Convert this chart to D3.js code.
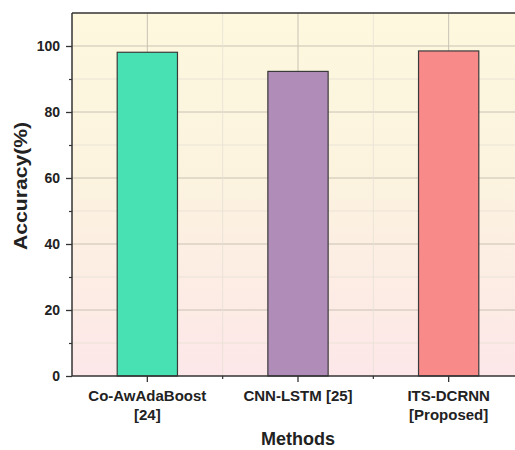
<!DOCTYPE html>
<html><head><meta charset="utf-8">
<script src="https://cdn.jsdelivr.net/npm/d3@7"></script>
<style>body{margin:0;background:#fff}svg{display:block}text{font-family:"Liberation Sans",Arial,sans-serif;font-weight:bold;fill:#222}</style>
</head><body>
<script>
const categories = ["Co-AwAdaBoost\n[24]", "CNN-LSTM [25]", "ITS-DCRNN\n[Proposed]"];
const values = [98.1, 92.3, 98.5];
const colors = ["#48e1b3", "#b08cb9", "#f88a8a"];
const yTicks = [0, 20, 40, 60, 80, 100];
const yMinor = [10, 30, 50, 70, 90];

const W = 515, H = 450;
const m = {left: 72, top: 13, bottom: 376};
const svg = d3.select("body").append("svg").attr("width", W).attr("height", H);

const x = d3.scaleBand().domain(categories).range([m.left, m.left + 452]).padding(0);
const y = d3.scaleLinear().domain([0, 110]).range([m.bottom, m.top]);

const defs = svg.append("defs");
const g = defs.append("linearGradient").attr("id", "bg").attr("x1", 0).attr("y1", 0).attr("x2", 0).attr("y2", 1);
g.append("stop").attr("offset", "0%").attr("stop-color", "#fdf8de");
g.append("stop").attr("offset", "45%").attr("stop-color", "#fcf3df");
g.append("stop").attr("offset", "100%").attr("stop-color", "#fde7e9");

svg.append("rect").attr("x", m.left).attr("y", m.top).attr("width", W - m.left).attr("height", m.bottom - m.top).attr("fill", "url(#bg)");

// grid
const gridG = svg.append("g");
gridG.selectAll(".hmin").data(yMinor).join("line")
  .attr("x1", m.left).attr("x2", W).attr("y1", d => y(d)).attr("y2", d => y(d))
  .attr("stroke", "#e6e0d4").attr("stroke-width", 0.8);
gridG.selectAll(".hmaj").data(yTicks.filter(d => d > 0)).join("line")
  .attr("x1", m.left).attr("x2", W).attr("y1", d => y(d)).attr("y2", d => y(d))
  .attr("stroke", "#c8c2b4").attr("stroke-width", 1);
gridG.selectAll(".vmaj").data(categories).join("line")
  .attr("x1", d => x(d) + x.bandwidth() / 2).attr("x2", d => x(d) + x.bandwidth() / 2)
  .attr("y1", m.top).attr("y2", m.bottom).attr("stroke", "#c8c2b4").attr("stroke-width", 1);
gridG.selectAll(".vmin").data(categories.slice(1)).join("line")
  .attr("x1", d => x(d)).attr("x2", d => x(d))
  .attr("y1", m.top).attr("y2", m.bottom).attr("stroke", "#e6e0d4").attr("stroke-width", 0.8);

// bars
const bw = x.bandwidth() * 0.4;
svg.selectAll(".bar").data(values).join("rect")
  .attr("x", (d, i) => x(categories[i]) + x.bandwidth() / 2 - bw / 2)
  .attr("y", d => y(d)).attr("width", bw).attr("height", d => y(0) - y(d))
  .attr("fill", (d, i) => colors[i]).attr("stroke", "#3a3a3a").attr("stroke-width", 1.2);

// frame top
svg.append("line").attr("x1", m.left).attr("x2", W).attr("y1", m.top).attr("y2", m.top).attr("stroke", "#333").attr("stroke-width", 1.5);

// y axis
const ya = svg.append("g").attr("transform", `translate(${m.left},0)`)
  .call(d3.axisLeft(y).tickValues(yTicks).tickSize(6).tickPadding(6).tickFormat(d3.format("d")));
ya.select(".domain").attr("stroke", "#333").attr("stroke-width", 1.5).attr("d", `M0,${m.top}V${m.bottom}`);
ya.selectAll(".tick line").attr("stroke", "#333").attr("stroke-width", 1.3);
ya.selectAll(".tick text").style("font-size", "14px").style("font-weight", "bold").attr("fill", "#222");
svg.append("g").attr("transform", `translate(${m.left},0)`)
  .call(d3.axisLeft(y).tickValues(yMinor).tickSize(3).tickFormat(""))
  .call(s => { s.select(".domain").remove(); s.selectAll("line").attr("stroke", "#333").attr("stroke-width", 1.2); });

// x axis
const xa = svg.append("g").attr("transform", `translate(0,${m.bottom})`)
  .call(d3.axisBottom(x).tickSize(6).tickFormat(""));
xa.select(".domain").attr("stroke", "#333").attr("stroke-width", 1.5).attr("d", `M${m.left},0H${W}`);
xa.selectAll(".tick line").attr("stroke", "#333").attr("stroke-width", 1.3);
svg.append("g").selectAll("line").data(categories.slice(1)).join("line")
  .attr("x1", d => x(d)).attr("x2", d => x(d)).attr("y1", m.bottom).attr("y2", m.bottom + 3)
  .attr("stroke", "#333").attr("stroke-width", 1.2);

svg.append("g").selectAll("text").data(categories).join("text")
  .attr("x", d => x(d) + x.bandwidth() / 2).attr("y", m.bottom + 25)
  .attr("text-anchor", "middle").style("font-size", "15px")
  .each(function(d) {
    const lines = d.split("\n");
    d3.select(this).selectAll("tspan").data(lines).join("tspan")
      .attr("x", x(d) + x.bandwidth() / 2).attr("dy", (l, i) => i === 0 ? 0 : 19).text(l => l);
  });

svg.append("text").attr("x", x(categories[1]) + x.bandwidth() / 2).attr("y", 445)
  .attr("text-anchor", "middle").style("font-size", "18px").text("Methods");
svg.append("text").attr("transform", `translate(27,186) rotate(-90)`)
  .attr("text-anchor", "middle").style("font-size", "19px")
  .attr("textLength", 128).attr("lengthAdjust", "spacingAndGlyphs").text("Accuracy(%)");
</script>
</body></html>
